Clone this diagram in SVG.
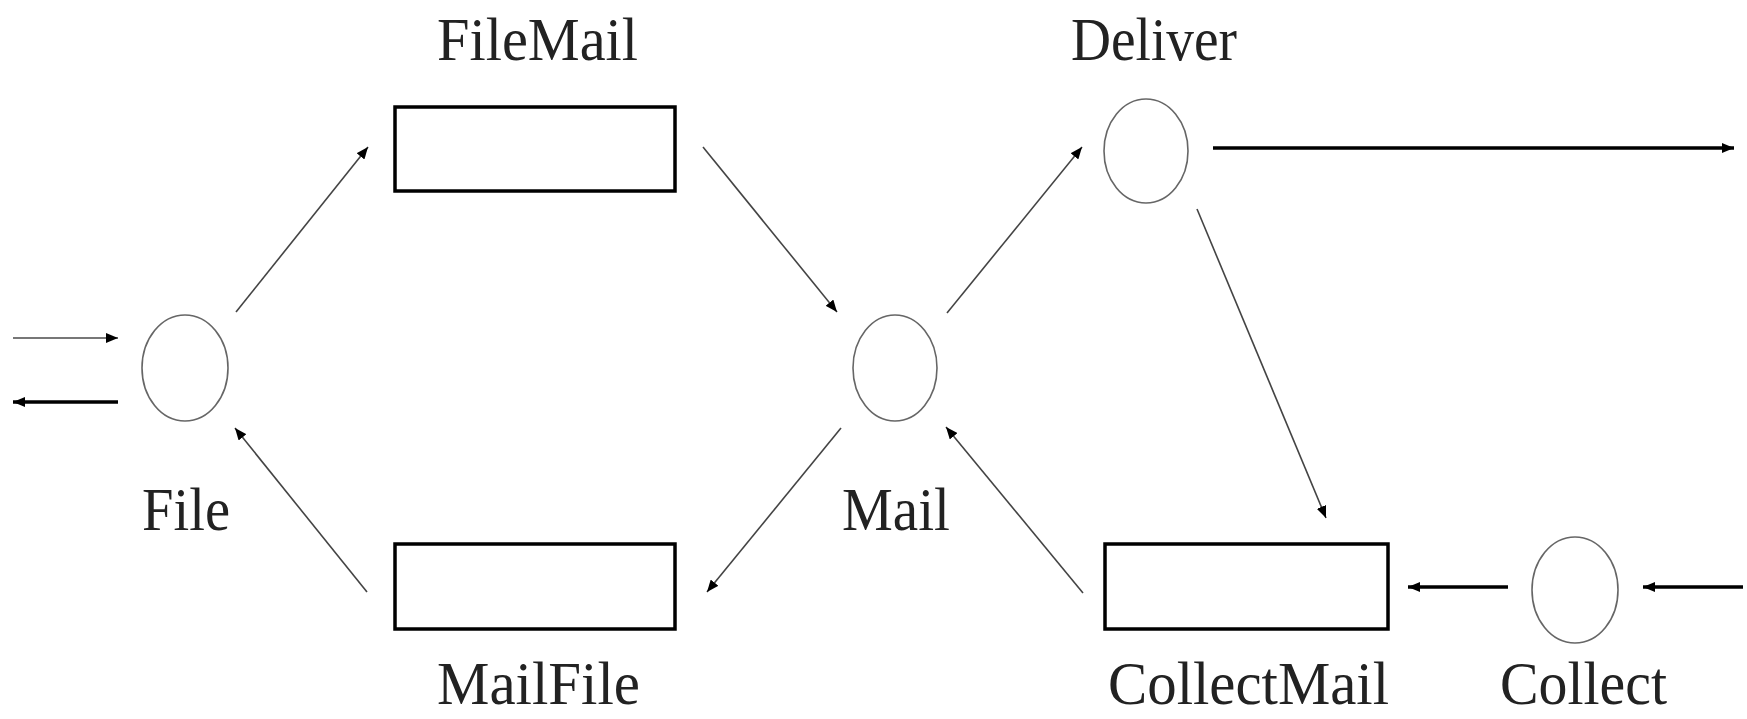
<svg xmlns="http://www.w3.org/2000/svg" width="1747" height="719" viewBox="0 0 1747 719">
<style>
  .lbl { font-family: "Liberation Serif", "DejaVu Serif", serif; font-size: 62px; fill: #222; }
  .place { fill: none; stroke: #666; stroke-width: 1.6; }
  .trans { fill: #fff; stroke: #000; stroke-width: 3.5; }
  .thin { stroke: #444; stroke-width: 1.6; fill: none; }
  .gray { stroke: #777; stroke-width: 1.8; fill: none; }
  .thick { stroke: #000; stroke-width: 3.5; fill: none; }
</style>
<defs>
  <marker id="ah" markerUnits="userSpaceOnUse" markerWidth="12" markerHeight="10" refX="12" refY="5" orient="auto">
    <path d="M0,0 L12,5 L0,10 z" fill="#000"/>
  </marker>
</defs>
<rect width="1747" height="719" fill="#fff"/>
<g id="connectors">
  <line class="gray" x1="13" y1="338" x2="118" y2="338" marker-end="url(#ah)"/>
  <line class="thick" x1="118" y1="402" x2="13" y2="402" marker-end="url(#ah)"/>
  <line class="thin" x1="236" y1="312" x2="368" y2="147" marker-end="url(#ah)"/>
  <line class="thin" x1="703" y1="147" x2="837" y2="312" marker-end="url(#ah)"/>
  <line class="thin" x1="947" y1="313" x2="1082" y2="147" marker-end="url(#ah)"/>
  <line class="thick" x1="1213" y1="148" x2="1734" y2="148" marker-end="url(#ah)"/>
  <line class="thin" x1="1197" y1="209" x2="1326" y2="518" marker-end="url(#ah)"/>
  <line class="thin" x1="1083" y1="593" x2="946" y2="427" marker-end="url(#ah)"/>
  <line class="thin" x1="841" y1="428" x2="707" y2="592" marker-end="url(#ah)"/>
  <line class="thin" x1="367" y1="592" x2="235" y2="428" marker-end="url(#ah)"/>
  <line class="thick" x1="1508" y1="587" x2="1408" y2="587" marker-end="url(#ah)"/>
  <line class="thick" x1="1743" y1="587" x2="1643" y2="587" marker-end="url(#ah)"/>
</g>
<g id="File">
  <ellipse class="place" cx="185" cy="368" rx="43" ry="53"/>
  <text class="lbl" x="142" y="530" textLength="88" lengthAdjust="spacingAndGlyphs">File</text>
</g>
<g id="FileMail">
  <rect class="trans" x="395" y="107" width="280" height="84"/>
  <text class="lbl" x="437" y="60" textLength="201" lengthAdjust="spacingAndGlyphs">FileMail</text>
</g>
<g id="Mail">
  <ellipse class="place" cx="895" cy="368" rx="42" ry="53"/>
  <text class="lbl" x="842" y="530" textLength="108" lengthAdjust="spacingAndGlyphs">Mail</text>
</g>
<g id="Deliver">
  <ellipse class="place" cx="1146" cy="151" rx="42" ry="52"/>
  <text class="lbl" x="1071" y="60" textLength="166" lengthAdjust="spacingAndGlyphs">Deliver</text>
</g>
<g id="MailFile">
  <rect class="trans" x="395" y="544" width="280" height="85"/>
  <text class="lbl" x="437" y="704" textLength="203" lengthAdjust="spacingAndGlyphs">MailFile</text>
</g>
<g id="CollectMail">
  <rect class="trans" x="1105" y="544" width="283" height="85"/>
  <text class="lbl" x="1108" y="704" textLength="281" lengthAdjust="spacingAndGlyphs">CollectMail</text>
</g>
<g id="Collect">
  <ellipse class="place" cx="1575" cy="590" rx="43" ry="53"/>
  <text class="lbl" x="1500" y="704" textLength="167" lengthAdjust="spacingAndGlyphs">Collect</text>
</g>
</svg>
